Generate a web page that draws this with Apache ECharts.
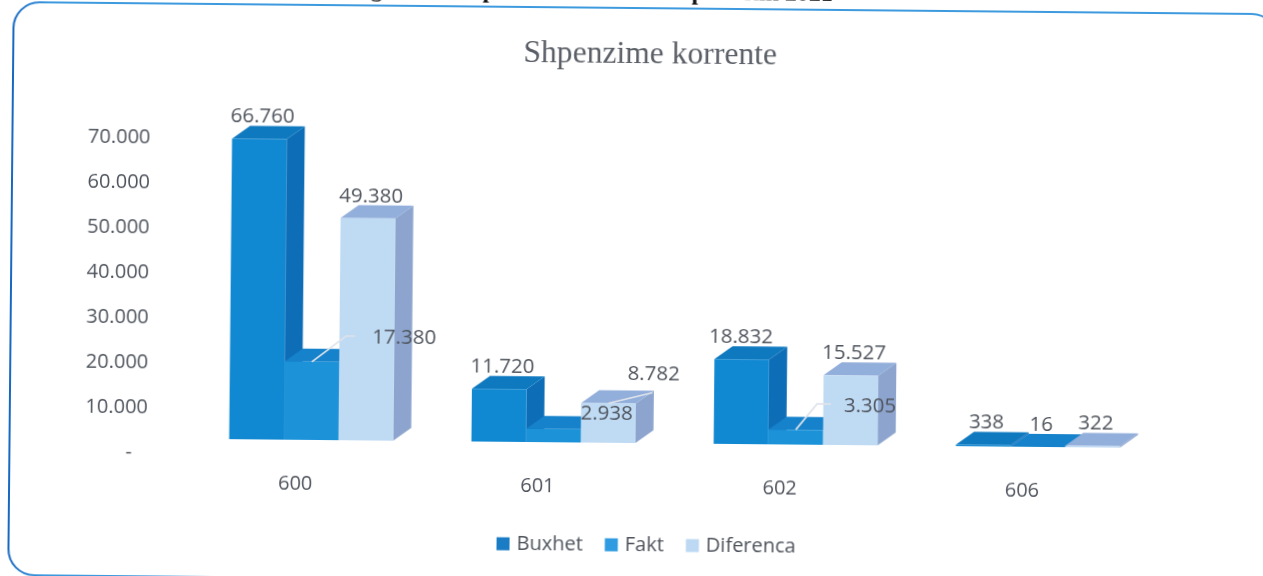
<!DOCTYPE html>
<html>
<head>
<meta charset="utf-8">
<title>Shpenzime korrente</title>
<script src="https://cdn.jsdelivr.net/npm/echarts@6/dist/echarts.min.js"></script>
<style>
    html, body { margin: 0; height: 100%; background: #fff; overflow: hidden; }
    /* the reference is a slightly crooked scan, so the whole sheet is turned a little */
    #chart { position: absolute; left: -20px; top: -20px; width: 1303px; height: 616px;
             transform: rotate(0.55deg); transform-origin: 651.5px 308px; }
</style>
</head>
<body>
<div id="chart"></div>
<script>
const categories = ['600', '601', '602', '606'];
const buxhet = [66760, 11720, 18832, 338];
const fakt = [17380, 2938, 3305, 16];
const diferenca = [49380, 8782, 15527, 322];
const yTicks = [0, 10000, 20000, 30000, 40000, 50000, 60000, 70000];

const PAD = 20;          // canvas overhang, so that the turned sheet has no cut corners
const FRONT_DX = 15.5;   // bars stand behind the axis plane
const FRONT_DY = 14;
const DEPTH_X = 18;
const DEPTH_Y = 13;
const BAR_SHARE = 0.2256;
const TEXT = '#4f545d';

const palette = [
    { front: '#1088d2', top: '#0f79c0', side: '#0d6db6', legend: '#1a7cc4' },
    { front: '#1c92d9', top: '#1582cb', side: '#1278bf', legend: '#2f9be0' },
    { front: '#bfdaf3', top: '#92aeda', side: '#8da5ce', legend: '#bcd8f2' }
];

// labels that sit away from the top of their bar, keyed series-category,
// with the bends of the leader line where there is one
const labelMoves = {
    '1-0': { dx: 92, dy: -25, leader: [[0, 0], [34, -26], [43, -26]] },
    '1-1': { dx: 53, dy: -16 },
    '1-2': { dx: 74, dy: -24, leader: [[0, 0], [21, -26], [35, -26]] },
    '2-1': { dx: 45, dy: -29, leader: [[0, 0], [44, -11]] },
    '0-2': { dx: -1 }
};

function fmt(v) {
    return String(v).replace(/\B(?=(\d{3})+$)/g, '.');
}

function barItem(s) {
    return function (params, api) {
        const cat = api.value(0);
        const v = api.value(1);
        const base = api.coord([cat, 0]);
        const end = api.coord([cat, v]);
        const w = api.size([1, 0])[0] * BAR_SHARE;
        const x0 = base[0] + FRONT_DX + (s - 1.5) * w;
        const x1 = x0 + w;
        const y0 = base[1] - FRONT_DY;
        const y1 = end[1] - FRONT_DY;
        const c = palette[s];
        const mid = (x0 + x1) / 2;
        const move = labelMoves[s + '-' + cat] || {};

        const children = [
            { type: 'polygon', shape: { points: [[x1, y0], [x1 + DEPTH_X, y0 - DEPTH_Y], [x1 + DEPTH_X, y1 - DEPTH_Y], [x1, y1]] }, style: { fill: c.side } },
            { type: 'polygon', shape: { points: [[x0, y1], [x0 + DEPTH_X, y1 - DEPTH_Y], [x1 + DEPTH_X, y1 - DEPTH_Y], [x1, y1]] }, style: { fill: c.top } },
            { type: 'rect', shape: { x: x0, y: y1, width: w, height: y0 - y1 }, style: { fill: c.front } }
        ];
        if (move.leader) {
            children.push({
                type: 'polyline', z2: 90,
                shape: { points: move.leader.map(p => [mid + p[0], y1 + p[1]]) },
                style: { stroke: '#dfe3ea', lineWidth: 1.6, fill: null }
            });
        }
        children.push({
            type: 'text', z2: 100,
            x: mid + (move.dx !== undefined ? move.dx : 3),
            y: move.dy !== undefined ? y1 + move.dy : y1 - DEPTH_Y - 9,
            style: { text: fmt(v), fill: TEXT, font: '20.5px "Open Sans"', align: 'center', verticalAlign: 'middle' }
        });
        return { type: 'group', children: children };
    };
}

function barSeries(name, values, s) {
    return {
        name: name,
        type: 'custom',
        renderItem: barItem(s),
        encode: { x: 0, y: 1 },
        itemStyle: { color: palette[s].legend },
        data: values.map((v, i) => [i, v]),
        clip: false,
        silent: true
    };
}

const chart = echarts.init(document.getElementById('chart'));
chart.setOption({
    animation: false,
    backgroundColor: '#fff',
    title: {
        text: 'Shpenzime korrente',
        left: 643 + PAD,
        top: 34 + PAD,
        textAlign: 'center',
        textStyle: { color: '#5a5e66', fontFamily: 'Liberation Serif', fontWeight: 'normal', fontSize: 31.6 }
    },
    legend: {
        data: ['Buxhet', 'Fakt', 'Diferenca'],
        left: 494 + PAD,
        top: 530 + PAD,
        icon: 'rect',
        itemWidth: 13,
        itemHeight: 13,
        itemGap: 22,
        itemStyle: { borderWidth: 0 },
        textStyle: { color: TEXT, fontFamily: 'Open Sans', fontSize: 20, padding: [0, 0, 0, 2] }
    },
    grid: { left: 176 + PAD, top: 142 + PAD, width: 969, height: 315 },
    xAxis: {
        type: 'category',
        data: categories,
        axisLine: { show: false },
        axisTick: { show: false },
        axisLabel: { color: TEXT, fontFamily: 'Open Sans', fontSize: 20, margin: 20 }
    },
    yAxis: {
        type: 'value',
        min: yTicks[0],
        max: yTicks[yTicks.length - 1],
        interval: yTicks[1] - yTicks[0],
        splitLine: { show: false },
        axisLine: { show: false },
        axisTick: { show: false },
        axisLabel: {
            color: TEXT, fontFamily: 'Open Sans', fontSize: 20, margin: 27,
            formatter: v => v === 0 ? '-   ' : fmt(v)
        }
    },
    graphic: [
        {
            type: 'rect', silent: true, z: 0,
            shape: { x: 11 + PAD, y: 8 + PAD, width: 1264, height: 573, r: 26 },
            style: {
                fill: 'none', lineWidth: 2,
                stroke: new echarts.graphic.LinearGradient(0, 0, 1, 0, [
                    { offset: 0, color: '#1565c0' },
                    { offset: 0.03, color: '#3d9ade' },
                    { offset: 1, color: '#3d9ade' }
                ])
            }
        },
        {
            type: 'text', silent: true, z: 0,
            x: 830 + PAD, y: 5 + PAD,
            style: {
                text: 'Diagrama e shpenzimeve korrente per vitin 2021',
                fill: '#111', font: 'bold 24px "Liberation Serif"', align: 'right', verticalAlign: 'bottom'
            }
        }
    ],
    series: [
        barSeries('Buxhet', buxhet, 0),
        barSeries('Fakt', fakt, 1),
        barSeries('Diferenca', diferenca, 2)
    ]
});
</script>
</body>
</html>
